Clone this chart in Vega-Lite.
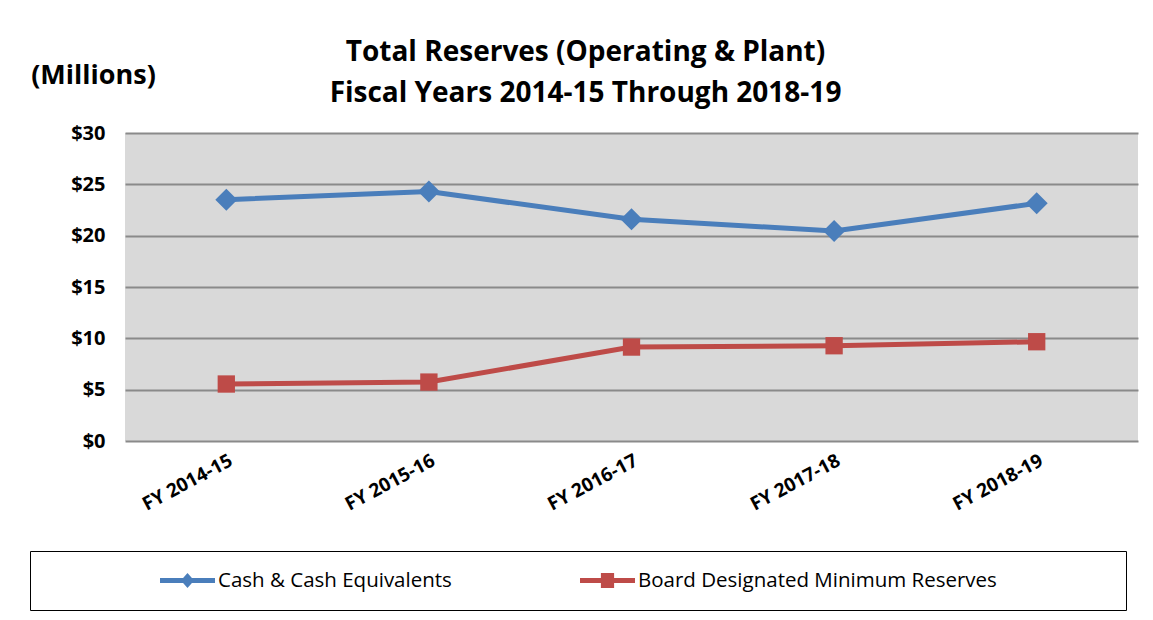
{
  "$schema": "https://vega.github.io/schema/vega-lite/v6.json",
  "width": 1013,
  "height": 308,
  "autosize": {"type": "none"},
  "padding": {"left": 125, "top": 133, "right": 15, "bottom": 179},
  "background": "white",
  "title": {
    "text": ["Total Reserves (Operating & Plant)", "Fiscal Years 2014-15 Through 2018-19"],
    "fontSize": 28,
    "lineHeight": 41,
    "font": "Open Sans",
    "fontWeight": "bold",
    "color": "#000000",
    "anchor": "middle",
    "dx": -46,
    "offset": -46.5
  },
  "data": {
    "values": [
      {"year": "FY 2014-15", "series": "Cash & Cash Equivalents", "value": 23.5},
      {"year": "FY 2015-16", "series": "Cash & Cash Equivalents", "value": 24.3},
      {"year": "FY 2016-17", "series": "Cash & Cash Equivalents", "value": 21.6},
      {"year": "FY 2017-18", "series": "Cash & Cash Equivalents", "value": 20.45},
      {"year": "FY 2018-19", "series": "Cash & Cash Equivalents", "value": 23.15},
      {"year": "FY 2014-15", "series": "Board Designated Minimum Reserves", "value": 5.55},
      {"year": "FY 2015-16", "series": "Board Designated Minimum Reserves", "value": 5.74},
      {"year": "FY 2016-17", "series": "Board Designated Minimum Reserves", "value": 9.15},
      {"year": "FY 2017-18", "series": "Board Designated Minimum Reserves", "value": 9.28},
      {"year": "FY 2018-19", "series": "Board Designated Minimum Reserves", "value": 9.67}
    ]
  },
  "encoding": {
    "x": {
      "field": "year",
      "type": "ordinal",
      "scale": {"type": "point", "padding": 0.5},
      "axis": {
        "title": null,
        "labelAngle": -28,
        "labelFont": "Open Sans",
        "labelFontWeight": "bold",
        "labelFontSize": 19,
        "labelColor": "#000000",
        "labelPadding": 10,
        "ticks": false,
        "domain": false,
        "grid": false
      }
    },
    "y": {
      "field": "value",
      "type": "quantitative",
      "scale": {"domain": [0, 30], "nice": false},
      "axis": {
        "values": [0, 5, 10, 15, 20, 25, 30],
        "labelExpr": "'$' + datum.value",
        "labelFont": "Open Sans",
        "labelFontWeight": "bold",
        "labelFontSize": 20,
        "labelColor": "#000000",
        "labelPadding": 20,
        "ticks": false,
        "domain": false,
        "grid": true,
        "gridColor": "#8a8a8a",
        "gridWidth": 2,
        "title": "(Millions)",
        "titleAngle": 0,
        "titleX": -32,
        "titleY": -58,
        "titleAlign": "center",
        "titleBaseline": "middle",
        "titleFont": "Open Sans",
        "titleFontSize": 27,
        "titleFontWeight": "bold",
        "titleColor": "#000000"
      }
    },
    "color": {
      "field": "series",
      "type": "nominal",
      "scale": {
        "domain": ["Cash & Cash Equivalents", "Board Designated Minimum Reserves"],
        "range": ["#4A7EBB", "#BE4B48"]
      },
      "legend": {
        "title": " ",
        "titleOrient": "right",
        "titlePadding": 127,
        "orient": "none",
        "legendX": -95,
        "legendY": 418,
        "direction": "horizontal",
        "strokeColor": "#000000",
        "fillColor": "#ffffff",
        "padding": 2,
        "symbolOffset": 128,
        "symbolSize": 3025,
        "symbolStrokeWidth": 0,
        "symbolType": "M-1,-0.09H1V0.09H-1Z",
        "columnPadding": 0,
        "labelOffset": 3,
        "labelFont": "Open Sans",
        "labelFontSize": 20.5,
        "labelColor": "#000000",
        "labelLimit": 500,
        "encode": {
          "symbols": {
            "update": {
              "shape": {"signal": "datum.value === 'Cash & Cash Equivalents' ? 'M0,-1L0,-1M0,1L0,1M-1,-0.09H1V0.09H-1Z M0,-0.27L0.24,0L0,0.27L-0.24,0Z' : 'M0,-1L0,-1M0,1L0,1M-1,-0.09H1V0.09H-1Z M-0.24,-0.27H0.24V0.27H-0.24Z'"}
            }
          }
        }
      }
    }
  },
  "layer": [
    {"mark": {"type": "line", "strokeWidth": 5}},
    {
      "transform": [{"filter": "datum.series === 'Cash & Cash Equivalents'"}],
      "mark": {"type": "point", "filled": true, "opacity": 1, "shape": "diamond", "size": 484}
    },
    {
      "transform": [{"filter": "datum.series === 'Board Designated Minimum Reserves'"}],
      "mark": {"type": "point", "filled": true, "opacity": 1, "shape": "square", "size": 300}
    }
  ],
  "config": {
    "view": {"fill": "#D9D9D9", "stroke": null}
  }
}
